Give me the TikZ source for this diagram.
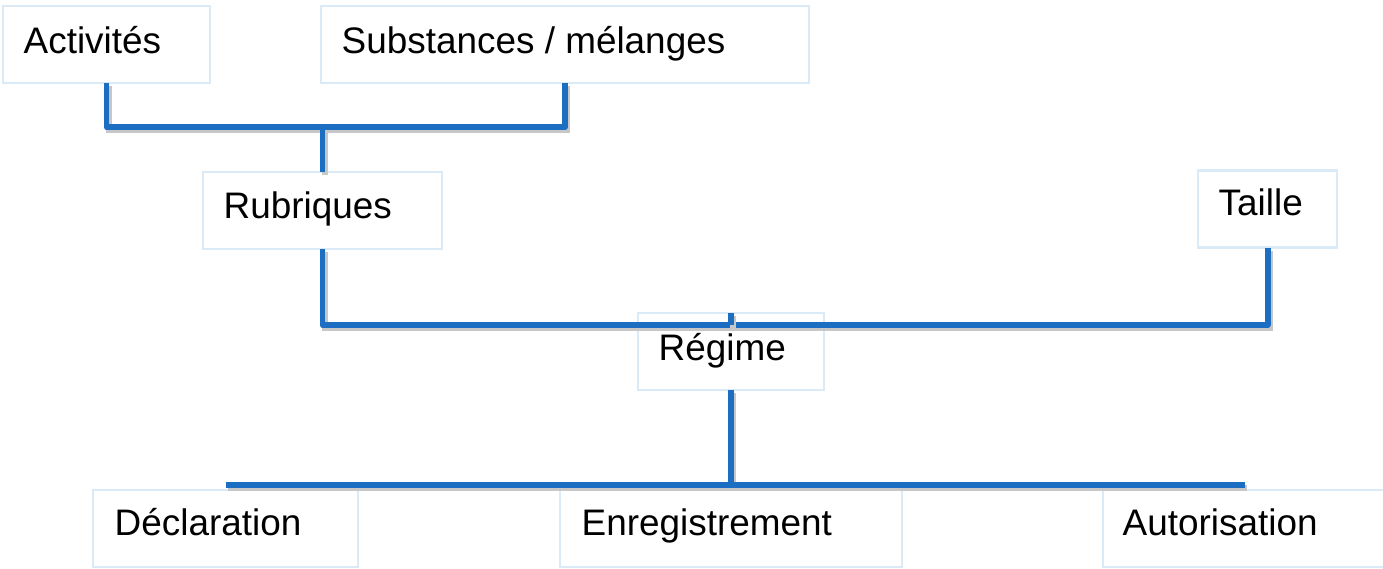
\documentclass[tikz,border=0pt]{standalone}
\usepackage{fontspec}
\setmainfont{Liberation Sans}
\usepackage{color}
\definecolor{linkblue}{RGB}{27,110,194}
\definecolor{boxblue}{RGB}{218,234,247}

\begin{document}
\begin{tikzpicture}[
		box/.style={draw=boxblue,line width=0.6pt,fill=white,rectangle,inner sep=0pt,outer sep=0pt,minimum height=0.77cm},
		lbl/.style={anchor=base west,inner sep=0pt,font=\fontsize{10.5}{12}\selectfont},
		link/.style={draw=linkblue,line width=1.7pt,line join=round,
			preaction={draw=black!22,line width=1.7pt,transform canvas={xshift=0.6pt,yshift=-0.9pt}}}]
		\useasboundingbox (0,0) rectangle (13.83,-5.68);
		\coordinate (c_act) at (1.065,-0.445);
		\coordinate (c_sub) at (5.65,-0.445);
		\coordinate (c_rub) at (3.225,-2.105);
		\coordinate (c_tai) at (12.675,-2.09);
		\coordinate (c_reg) at (7.31,-3.515);
		\coordinate (c_dec) at (2.255,-5.285);
		\coordinate (c_enr) at (7.31,-5.285);
		\coordinate (c_aut) at (12.45,-5.285);
		\node[box,minimum width=2.07cm] (act) at (c_act) {};
		\node[box,minimum width=4.88cm] (sub) at (c_sub) {};
		\node[box,minimum width=2.39cm] (rub) at (c_rub) {};
		\node[box,minimum width=1.39cm] (tai) at (c_tai) {};
		\node[box,minimum width=1.86cm] (reg) at (c_reg) {};
		\node[box,minimum width=2.65cm] (dec) at (c_dec) {};
		\node[box,minimum width=3.42cm] (enr) at (c_enr) {};
		\node[box,minimum width=2.84cm] (aut) at (c_aut) {};
	
		\node[lbl] (act_t) at ([shift={(0.20,-0.47)}]act.north west) {Activités};
		\node[lbl] (sub_t) at ([shift={(0.20,-0.47)}]sub.north west) {Substances / mélanges};
		\node[lbl] (rub_t) at ([shift={(0.20,-0.46)}]rub.north west) {Rubriques};
		\node[lbl] (tai_t) at ([shift={(0.20,-0.45)}]tai.north west) {Taille};
		\node[lbl] (reg_t) at ([shift={(0.20,-0.47)}]reg.north west) {Régime};
		\node[lbl] (dec_t) at ([shift={(0.21,-0.45)}]dec.north west) {Déclaration};
		\node[lbl] (enr_t) at ([shift={(0.21,-0.45)}]enr.north west) {Enregistrement};
		\node[lbl] (aut_t) at ([shift={(0.19,-0.45)}]aut.north west) {Autorisation};
	
		% joints of the tree
		\coordinate (j_top) at (3.225,-1.27);
		\coordinate (j_mid) at (7.31,-3.25);
		\coordinate (j_low) at (7.31,-4.85);
	
		\draw[link] (act.south) |- (j_top) -| (sub.south);
		\draw[link] (j_top) -- (rub.north);
		\draw[link] (rub.south) |- (j_mid) -| (tai.south);
		\draw[link] (j_mid) -- (reg.north);
		\draw[link] (reg.south) -- (j_low);
		\draw[link] (dec.north |- j_low) -- (aut.north |- j_low);
	\end{tikzpicture}
\end{document}
